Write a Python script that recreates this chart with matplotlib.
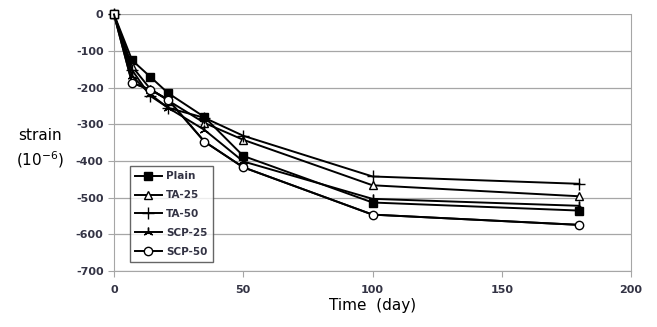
import matplotlib.pyplot as plt

plt.rcParams['axes.unicode_minus'] = False

days = [0, 7, 14, 21, 35, 50, 100, 180]
plain = [0, -125, -170, -215, -280, -386, -513, -535]
ta25 = [0, -142, -203, -235, -296, -342, -466, -496]
ta50 = [0, -152, -222, -255, -282, -331, -442, -462]
scp25 = [0, -168, -218, -255, -315, -401, -503, -522]
scp50 = [0, -187, -205, -233, -347, -417, -546, -574]

fig = plt.figure(figsize=(6.57, 3.27), dpi=100)
ax = fig.add_axes([0.1735, 0.171, 0.787, 0.785])

ax.plot(days, plain, color='black', lw=1.4, marker='s', ms=5.5, mfc='black', label='Plain', clip_on=False)
ax.plot(days, ta25, color='black', lw=1.4, marker='^', ms=6, mfc='white', label='TA-25', clip_on=False)
ax.plot(days, ta50, color='black', lw=1.4, marker='+', ms=8, mew=1.0, label='TA-50', clip_on=False)
ax.plot(days, scp25, color='black', lw=1.4, marker=(3, 2, 0), ms=7, mew=1.0, label='SCP-25', clip_on=False)
ax.plot(days, scp50, color='black', lw=1.4, marker='s', ms=6, mfc='white', label='_start',
        markevery=[0], clip_on=False, zorder=3)
ax.plot(days, scp50, color='black', lw=1.4, marker='o', ms=6, mfc='white', label='SCP-50',
        markevery=list(range(1, len(days))), clip_on=False, zorder=3)

ax.set_xlim(0, 200)
ax.set_ylim(-700, 0)
ax.set_xticks([0, 50, 100, 150, 200])
ax.set_yticks(range(-700, 1, 100))
ax.grid(axis='y', color='#a6a6a6', lw=0.9)
ax.set_axisbelow(True)
for s in ['left', 'bottom', 'right']:
    ax.spines[s].set_color('#a6a6a6')
ax.spines['top'].set_visible(False)
ax.tick_params(colors='#a6a6a6', length=4, labelcolor='#333344', labelsize=8)
for lab in ax.get_xticklabels() + ax.get_yticklabels():
    lab.set_fontweight('bold')
ax.tick_params(axis='x', pad=6)

ax.set_xlabel('Time  (day)', fontsize=11, labelpad=2)
fig.text(0.061, 0.545, 'strain\n(10$^{-6}$)', fontsize=11, ha='center', va='center', linespacing=1.4)

handles, labels = ax.get_legend_handles_labels()
leg = ax.legend(handles, labels, loc='lower left', bbox_to_anchor=(0.02, 0.015),
                prop={'size': 7.5, 'weight': 'bold'},
                frameon=True, fancybox=False, edgecolor='#404040', handlelength=2.6,
                labelspacing=0.85, borderpad=0.5, handletextpad=0.4)
leg.get_frame().set_linewidth(1.0)
for t in leg.get_texts():
    t.set_color('#333344')

fig.savefig('out.png', dpi=100)
